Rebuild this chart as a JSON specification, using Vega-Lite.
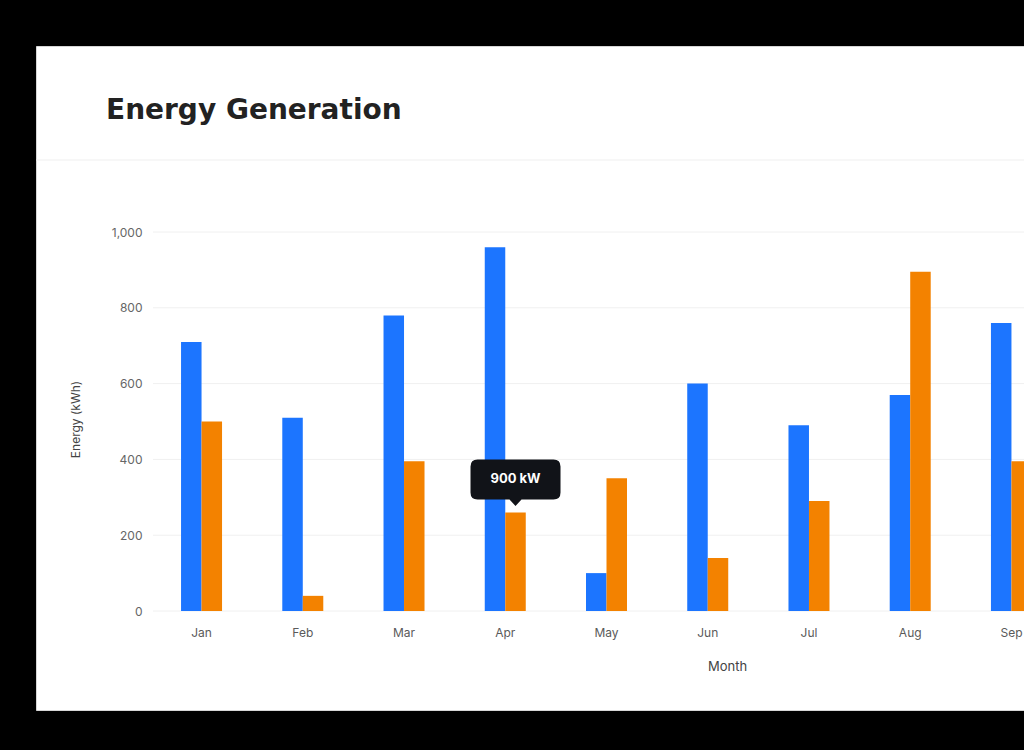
{
  "$schema": "https://vega.github.io/schema/vega-lite/v6.json",
  "autosize": {"type": "none"},
  "width": 988,
  "height": 664,
  "padding": {"left": 36, "top": 46, "right": 0, "bottom": 40},
  "background": "#000000",
  "config": {
    "view": {"fill": "#ffffff", "stroke": "#d6d6d6", "strokeWidth": 1},
    "font": "Inter",
    "axisY": {
      "grid": false,
      "ticks": false,
      "tickSize": 0,
      "domain": false,
      "labelPadding": 0,
      "offset": -106,
      "labelFontSize": 12,
      "labelColor": "#666666",
      "titleFontSize": 12,
      "titleColor": "#444444",
      "titleFontWeight": "normal",
      "titleX": -67,
      "titleY": 373,
      "titleAlign": "center",
      "titleBaseline": "middle",
      "titleAngle": -90
    }
  },
  "title": {
    "text": "Energy Generation",
    "anchor": "start",
    "frame": "group",
    "orient": "top",
    "offset": 0,
    "baseline": "alphabetic",
    "dx": 70,
    "dy": 101,
    "fontSize": 28,
    "fontWeight": "bold",
    "color": "#222222",
    "font": "DejaVu Sans"
  },
  "datasets": {
    "energy": [
      {"month": "Jan", "series": "Series 1", "value": 710},
      {"month": "Jan", "series": "Series 2", "value": 500},
      {"month": "Feb", "series": "Series 1", "value": 510},
      {"month": "Feb", "series": "Series 2", "value": 40},
      {"month": "Mar", "series": "Series 1", "value": 780},
      {"month": "Mar", "series": "Series 2", "value": 395},
      {"month": "Apr", "series": "Series 1", "value": 960},
      {"month": "Apr", "series": "Series 2", "value": 260, "tooltip": "900 kW"},
      {"month": "May", "series": "Series 1", "value": 100},
      {"month": "May", "series": "Series 2", "value": 350},
      {"month": "Jun", "series": "Series 1", "value": 600},
      {"month": "Jun", "series": "Series 2", "value": 140},
      {"month": "Jul", "series": "Series 1", "value": 490},
      {"month": "Jul", "series": "Series 2", "value": 290},
      {"month": "Aug", "series": "Series 1", "value": 570},
      {"month": "Aug", "series": "Series 2", "value": 895},
      {"month": "Sep", "series": "Series 1", "value": 760},
      {"month": "Sep", "series": "Series 2", "value": 395}
    ],
    "grid": [{"v": 0}, {"v": 200}, {"v": 400}, {"v": 600}, {"v": 800}, {"v": 1000}]
  },
  "resolve": {"scale": {"x": "independent"}},
  "layer": [
    {
      "data": {"name": "grid"},
      "mark": {"type": "rule", "color": "#f0f0f0", "strokeWidth": 1},
      "encoding": {
        "y": {
          "field": "v",
          "type": "quantitative",
          "scale": {"domain": [-261.2, 1490.8], "nice": false, "zero": false},
          "axis": {"title": "Energy (kWh)", "values": [0, 200, 400, 600, 800, 1000], "format": ",d"}
        },
        "x": {"datum": 0, "type": "quantitative", "scale": {"domain": [0, 1], "range": [117, 988]}, "axis": null},
        "x2": {"datum": 1}
      }
    },
    {
      "data": {"values": [{}]},
      "mark": {"type": "rule", "color": "#efefef", "strokeWidth": 1},
      "encoding": {
        "y": {
          "datum": 1190,
          "type": "quantitative",
          "scale": {"domain": [-261.2, 1490.8], "nice": false, "zero": false},
          "axis": {"title": "Energy (kWh)", "values": [0, 200, 400, 600, 800, 1000], "format": ",d"}
        }
      }
    },
    {
      "data": {"name": "energy"},
      "mark": {"type": "bar", "clip": true},
      "encoding": {
        "x": {
          "field": "month",
          "type": "nominal",
          "sort": null,
          "scale": {
            "domain": ["Jan", "Feb", "Mar", "Apr", "May", "Jun", "Jul", "Aug", "Sep"],
            "range": [117, 1024],
            "paddingInner": 0.595,
            "paddingOuter": 0.277
          },
          "axis": {
            "title": "Month",
            "labelAngle": 0,
            "ticks": false,
            "tickSize": 0,
            "domain": false,
            "labelPadding": 0,
            "offset": -83,
            "labelFontSize": 12,
            "labelColor": "#5a5a5a",
            "labelBaseline": "top",
            "titleFontSize": 13,
            "titleColor": "#444444",
            "titleFontWeight": "normal",
            "titleX": 691,
            "titleY": 39,
            "titleAlign": "center",
            "titleBaseline": "middle"
          }
        },
        "xOffset": {"field": "series", "type": "nominal", "scale": {"domain": ["Series 1", "Series 2"], "paddingInner": 0, "paddingOuter": 0}},
        "y": {
          "field": "value",
          "type": "quantitative",
          "scale": {"domain": [-261.2, 1490.8], "nice": false, "zero": false},
          "axis": {"title": "Energy (kWh)", "values": [0, 200, 400, 600, 800, 1000], "format": ",d"}
        },
        "y2": {"datum": 0},
        "color": {"field": "series", "type": "nominal", "scale": {"domain": ["Series 1", "Series 2"], "range": ["#1c75ff", "#f38200"]}, "legend": null}
      }
    },
    {
      "data": {"name": "energy"},
      "transform": [{"filter": "datum.tooltip != null"}],
      "mark": {
        "type": "point",
        "filled": true,
        "fill": "#111318",
        "opacity": 1,
        "strokeWidth": 0,
        "size": 10000,
        "shape": "M-0.76,-1.06 H0.76 Q0.9,-1.06 0.9,-0.92 V-0.4 Q0.9,-0.26 0.76,-0.26 H0.12 L0,-0.13 L-0.12,-0.26 H-0.76 Q-0.9,-0.26 -0.9,-0.4 V-0.92 Q-0.9,-1.06 -0.76,-1.06 Z"
      },
      "encoding": {
        "x": {"field": "month", "type": "nominal", "sort": null, "scale": {"domain": ["Jan", "Feb", "Mar", "Apr", "May", "Jun", "Jul", "Aug", "Sep"], "range": [117, 1024], "paddingInner": 0.595, "paddingOuter": 0.277}, "axis": null},
        "xOffset": {"field": "series", "type": "nominal", "scale": {"domain": ["Series 1", "Series 2"], "paddingInner": 0, "paddingOuter": 0}},
        "y": {
          "field": "value",
          "type": "quantitative",
          "scale": {"domain": [-261.2, 1490.8], "nice": false, "zero": false},
          "axis": {"title": "Energy (kWh)", "values": [0, 200, 400, 600, 800, 1000], "format": ",d"}
        }
      }
    },
    {
      "data": {"name": "energy"},
      "transform": [{"filter": "datum.tooltip != null"}],
      "mark": {"type": "text", "color": "#ffffff", "fontSize": 13, "fontWeight": "bold", "align": "center", "baseline": "middle", "dy": -33, "font": "Inter"},
      "encoding": {
        "x": {"field": "month", "type": "nominal", "sort": null, "scale": {"domain": ["Jan", "Feb", "Mar", "Apr", "May", "Jun", "Jul", "Aug", "Sep"], "range": [117, 1024], "paddingInner": 0.595, "paddingOuter": 0.277}, "axis": null},
        "xOffset": {"field": "series", "type": "nominal", "scale": {"domain": ["Series 1", "Series 2"], "paddingInner": 0, "paddingOuter": 0}},
        "y": {
          "field": "value",
          "type": "quantitative",
          "scale": {"domain": [-261.2, 1490.8], "nice": false, "zero": false},
          "axis": {"title": "Energy (kWh)", "values": [0, 200, 400, 600, 800, 1000], "format": ",d"}
        },
        "text": {"field": "tooltip"}
      }
    }
  ]
}
